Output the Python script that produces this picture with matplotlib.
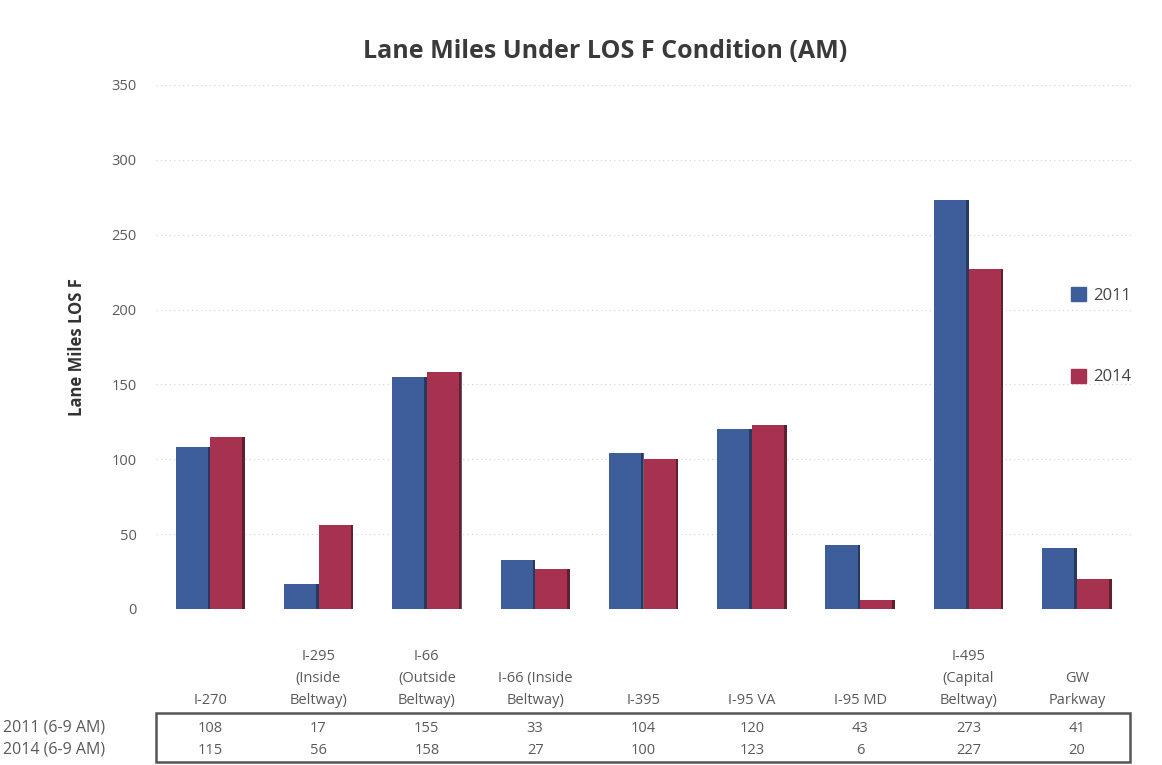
import matplotlib
matplotlib.use("Agg")
import matplotlib.pyplot as plt
import matplotlib.transforms as mtransforms
from matplotlib.patches import Rectangle, Patch
import numpy as np

plt.rcParams["font.family"] = ["Open Sans", "DejaVu Sans"]

# Corridors (column headers of the data table) and lane-mile values
corridors = [
    "I-270",
    "I-295\n(Inside\nBeltway)",
    "I-66\n(Outside\nBeltway)",
    "I-66 (Inside\nBeltway)",
    "I-395",
    "I-95 VA",
    "I-95 MD",
    "I-495\n(Capital\nBeltway)",
    "GW\nParkway",
]
miles_2011 = [108, 17, 155, 33, 104, 120, 43, 273, 41]
miles_2014 = [115, 56, 158, 27, 100, 123, 6, 227, 20]
series_names = ["2011", "2014"]
row_labels = ["2011 (6-9 AM)", "2014 (6-9 AM)"]
y_ticks = [0, 50, 100, 150, 200, 250, 300, 350]

blue = "#3d5e9b"
red = "#a6324f"
shade_blue = "#1f2f4d"
shade_red = "#4a1a26"
text_grey = "#5a5a5a"

W, H = 1162, 765
fig = plt.figure(figsize=(W / 100, H / 100), dpi=100)
ax = fig.add_axes([156 / W, 1 - 609 / H, (1131 - 156) / W, (609 - 85) / H])

x = np.arange(len(corridors))
bw = 0.32
for vals, off, col, sh in [(miles_2011, -bw / 2, blue, shade_blue),
                           (miles_2014, bw / 2, red, shade_red)]:
    ax.bar(x + off, vals, width=bw, color=col, zorder=3)
    # thin darker edge on the right side of each bar
    ax.bar(x + off + bw / 2 - 0.012, vals, width=0.024, color=sh,
           alpha=0.75, zorder=4)

ax.set_xlim(-0.5, len(corridors) - 0.5)
ax.set_ylim(0, 350)
ax.set_yticks(y_ticks)
ax.set_yticklabels([str(t) for t in y_ticks], fontsize=10.5, color=text_grey)
ax.tick_params(axis="y", length=0, pad=14)
ax.tick_params(axis="x", length=0, labelbottom=False)
for s in ax.spines.values():
    s.set_visible(False)
ax.yaxis.grid(True, linestyle=(0, (1, 3)), color="#cfcfcf", linewidth=0.8, zorder=0)
ax.set_axisbelow(True)

ax.set_ylabel("Lane Miles LOS F", fontsize=12, color="#333333",
              fontweight="bold", labelpad=18)

fig.text(605 / W, 1 - 52 / H, "Lane Miles Under LOS F Condition (AM)",
         ha="center", va="center", fontsize=18, fontweight="bold",
         color="#3a3a3a")

handles = [Patch(facecolor=blue, edgecolor=blue),
           Patch(facecolor=red, edgecolor=red)]
ax.legend(handles, series_names, loc="upper left",
          bbox_to_anchor=(1056 / W, 1 - 272 / H), bbox_transform=fig.transFigure,
          frameon=False, fontsize=12, labelspacing=3.9, handlelength=0.9,
          handleheight=0.9, handletextpad=0.4, labelcolor="#444444")

# Data table beneath the chart
blend = mtransforms.blended_transform_factory(ax.transData, fig.transFigure)
tsize = 10.5
for i, name in enumerate(corridors):
    fig.text(x[i], 1 - 708 / H, name, transform=blend, ha="center",
             va="bottom", fontsize=tsize, color=text_grey, linespacing=1.65)
    fig.text(x[i], 1 - 728 / H, str(miles_2011[i]), transform=blend,
             ha="center", va="center", fontsize=tsize, color=text_grey)
    fig.text(x[i], 1 - 750 / H, str(miles_2014[i]), transform=blend,
             ha="center", va="center", fontsize=tsize, color=text_grey)

for lbl, yy in zip(row_labels, [728, 750]):
    fig.text(3 / W, 1 - yy / H, lbl, ha="left", va="center", fontsize=11.5,
             color=text_grey)

fig.patches.append(Rectangle((156 / W, 1 - 762 / H), (1130 - 156) / W,
                             (762 - 713) / H, transform=fig.transFigure,
                             fill=False, edgecolor="#555555", linewidth=1.8))

fig.savefig("out.png", dpi=100, facecolor="white")
